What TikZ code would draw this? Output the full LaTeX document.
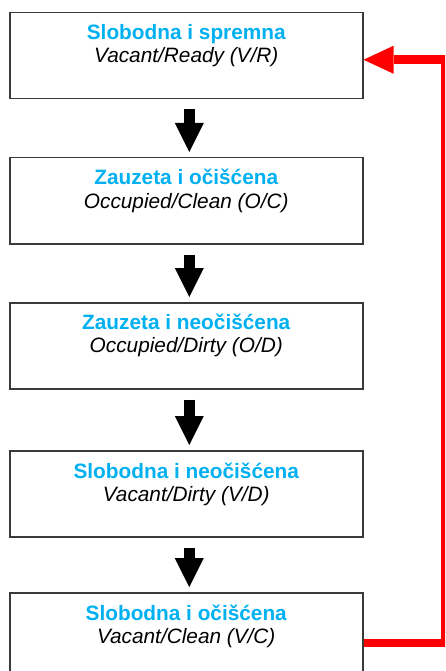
\documentclass[tikz,border=0pt]{standalone}
\usepackage{fontspec}
\setmainfont{Liberation Sans}
\usetikzlibrary{arrows.meta,calc}
\definecolor{ttlblue}{HTML}{00B0F0}
\definecolor{framegray}{HTML}{3A3A3A}
\definecolor{loopred}{HTML}{FF0000}
\begin{document}
\begin{tikzpicture}[x=1pt,y=-1pt,
  box/.style={draw=framegray, line width=1.5pt, minimum width=353pt, minimum height=86pt, inner sep=0pt, anchor=north west},
  titletext/.style={anchor=base, inner sep=0pt, text=ttlblue, font=\fontsize{20.8}{24}\selectfont\bfseries},
  subtext/.style={anchor=base, inner sep=0pt, text=black, font=\fontsize{20.8}{24}\selectfont\itshape},
  downarrow/.style={draw=black, line width=11pt, -{Triangle[width=29pt,length=29pt,line width=0pt]}, shorten <=10pt, shorten >=5pt},
  looparrow/.style={draw=loopred, line width=8.5pt, line join=miter, -{Triangle[width=28pt,length=30pt,line width=0pt]}}
]
\path[use as bounding box, clip] (0,0) rectangle (445,671);

\node[box] (b1) at (9,12) {};
\node[box] (b2) at (9,157) {};
\node[box] (b3) at (9,302) {};
\node[box] (b4) at (9,450) {};
\node[box] (b5) at (9,592) {};

\node[titletext] (t1) at ($(b1.north)+(0,28)$) {Slobodna i spremna};
\node[subtext] (s1) at ($(b1.north)+(0,51)$) {Vacant/Ready (V/R)};
\node[titletext] (t2) at ($(b2.north)+(0,27.5)$) {Zauzeta i očišćena};
\node[subtext] (s2) at ($(b2.north)+(0,51)$) {Occupied/Clean (O/C)};
\node[titletext] (t3) at ($(b3.north)+(0,27)$) {Zauzeta i neočišćena};
\node[subtext] (s3) at ($(b3.north)+(0,50.5)$) {Occupied/Dirty (O/D)};
\node[titletext] (t4) at ($(b4.north)+(0,28)$) {Slobodna i neočišćena};
\node[subtext] (s4) at ($(b4.north)+(0,51.5)$) {Vacant/Dirty (V/D)};
\node[titletext] (t5) at ($(b5.north)+(0,28)$) {Slobodna i očišćena};
\node[subtext] (s5) at ($(b5.north)+(0,51)$) {Vacant/Clean (V/C)};

\draw[downarrow] ([xshift=3pt]b1.south) -- ([xshift=3pt]b2.north);
\draw[downarrow] ([xshift=3pt]b2.south) -- ([xshift=3pt]b3.north);
\draw[downarrow] ([xshift=3pt]b3.south) -- ([xshift=3pt]b4.north);
\draw[downarrow] ([xshift=3pt]b4.south) -- ([xshift=3pt]b5.north);

\coordinate (rc) at (445,350);
\draw[looparrow] ([yshift=-7pt]b5.east) -| (rc) |- ([yshift=-4pt]b1.east);
\end{tikzpicture}
\end{document}
